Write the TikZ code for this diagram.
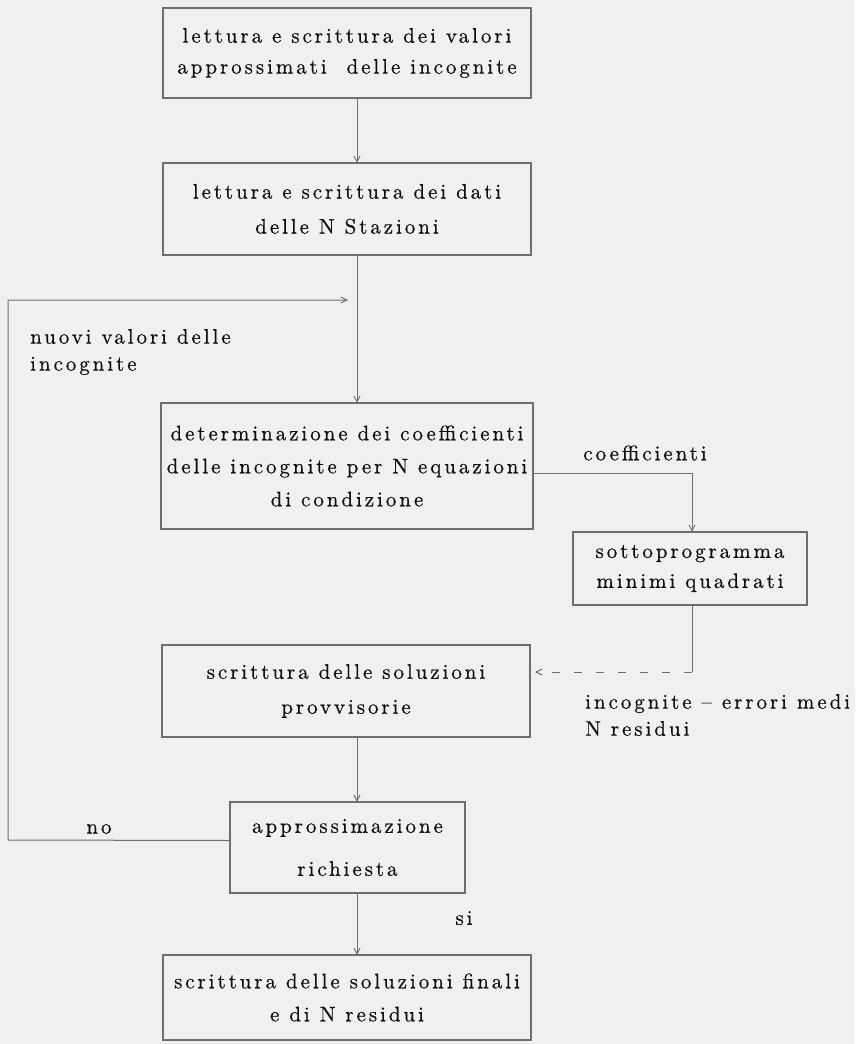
\documentclass[tikz,border=0pt]{standalone}
\usepackage{fontspec}
\newfontfamily\oldfont{lmroman10-regular.otf}[Ligatures=TeX,LetterSpace=14,FakeBold=0.5]
\usetikzlibrary{arrows.meta}
\definecolor{bg}{RGB}{240,240,238}
\definecolor{linec}{RGB}{110,110,110}
\definecolor{txt}{RGB}{15,15,15}
\begin{document}
\begin{tikzpicture}[x=1pt,y=-1pt,
  box/.style={draw=linec, line width=1.1pt, align=center, inner sep=0pt, text=txt,
    font=\oldfont\fontsize{21}{33}\selectfont},
  lbl/.style={text=txt, inner sep=0pt, font=\oldfont\fontsize{21}{27}\selectfont},
  conn/.style={draw=linec, line width=1pt},
  arr/.style={conn, -{Straight Barb[length=6pt,width=6pt]}}]
\fill[bg] (0,0) rectangle (855,1044);
\useasboundingbox (0,0) rectangle (855,1044);

\node[box, minimum width=368pt, minimum height=90pt, font=\oldfont\fontsize{21}{31}\selectfont] (b1) at (347,53)
  {lettura e scrittura dei valori\\ approssimati \ delle incognite};
\node[box, minimum width=368pt, minimum height=92pt, font=\oldfont\fontsize{21}{35}\selectfont] (b2) at (347,209)
  {lettura e scrittura dei dati\\ delle N Stazioni};
\node[box, minimum width=372pt, minimum height=126pt] (b3) at (347,466)
  {determinazione dei coefficienti\\ delle incognite per N equazioni\\ di condizione};
\node[box, minimum width=234pt, minimum height=73pt, font=\oldfont\fontsize{21}{30}\selectfont] (b4) at (690,568.5)
  {sottoprogramma\\ minimi quadrati};
\node[box, minimum width=368pt, minimum height=92pt, font=\oldfont\fontsize{21}{35}\selectfont] (b5) at (346,691)
  {scrittura delle soluzioni\\ provvisorie};
\node[box, minimum width=235pt, minimum height=91pt, font=\oldfont\fontsize{21}{43}\selectfont] (b6) at (347.5,847.5)
  {approssimazione\\ richiesta};
\node[box, minimum width=368pt, minimum height=85pt] (b7) at (347,997.5)
  {scrittura delle soluzioni finali\\ e di N residui};

% labels
\node[lbl, anchor=west, align=left] (lnuovi) at (30,352) {nuovi valori delle\\ incognite};
\node[lbl] (lcoef) at (645,453) {coefficienti};
\node[lbl, anchor=west, align=left] (linc) at (585,715) {incognite – errori medi\\ N residui};
\node[lbl] (lno) at (99,829) {no};
\node[lbl] (lsi) at (464,918) {si};

% coordinates
\coordinate (c12a) at (357,98);
\coordinate (c12b) at (357,163);
\coordinate (c23a) at (357,255);
\coordinate (c23b) at (357,403);
\coordinate (lc) at (8,840);
\coordinate (lt) at (8,300);
\coordinate (la) at (348,300);
\coordinate (k1) at (692,473);
\coordinate (k2) at (692,532);
\coordinate (k3) at (692,605);
\coordinate (k4) at (692,672);
\coordinate (k5) at (535,672);
\coordinate (c56a) at (357,737);
\coordinate (c56b) at (357,802);
\coordinate (c67a) at (357,893);
\coordinate (c67b) at (357,955);

% connectors
\draw[arr] (c12a) -- (c12b);
\draw[arr] (c23a) -- (c23b);
\draw[arr] ([yshift=7pt]b6.west) -- (lc) -- (lt) -- (la);
\draw[conn] ([yshift=-7pt]b3.east) -- (k1);
\draw[arr] (k1) -- (k2);
\draw[conn] (k3) -- (k4);
\draw[arr, dash pattern=on 8pt off 14pt] (k4) -- (k5);
\draw[arr] (c56a) -- (c56b);
\draw[arr] (c67a) -- (c67b);
\end{tikzpicture}
\end{document}
